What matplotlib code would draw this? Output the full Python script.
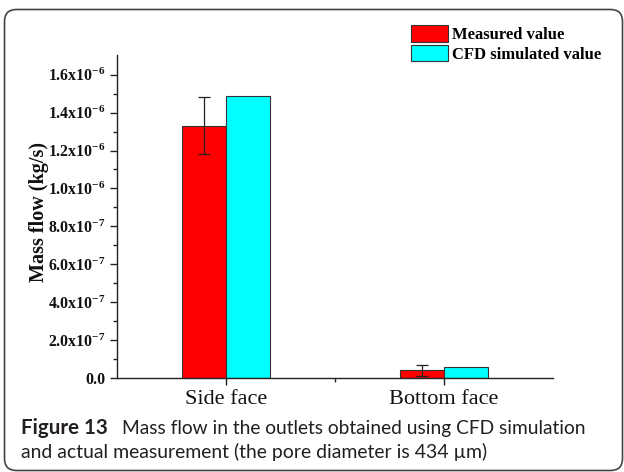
"""Figure 13: mass flow in the outlets, measured vs CFD simulated."""
import numpy as np
import matplotlib
matplotlib.use("Agg")
import matplotlib.pyplot as plt
from matplotlib.patches import FancyBboxPatch
from matplotlib.ticker import FixedLocator, FixedFormatter
from matplotlib.transforms import IdentityTransform

# ---------------------------------------------------------------------------
# data
# ---------------------------------------------------------------------------
categories = ["Side face", "Bottom face"]
measured = [1.33e-6, 0.04e-6]
measured_err = [0.15e-6, 0.028e-6]
simulated = [1.49e-6, 0.06e-6]

ytick_values = [0.0, 0.2e-6, 0.4e-6, 0.6e-6, 0.8e-6, 1.0e-6, 1.2e-6, 1.4e-6, 1.6e-6]
ytick_labels = ["0.0", r"2.0x10$^{-7}$", r"4.0x10$^{-7}$", r"6.0x10$^{-7}$",
                r"8.0x10$^{-7}$", r"1.0x10$^{-6}$", r"1.2x10$^{-6}$",
                r"1.4x10$^{-6}$", r"1.6x10$^{-6}$"]

plt.rcParams["mathtext.fontset"] = "custom"
plt.rcParams["mathtext.rm"] = "Liberation Serif:bold"
plt.rcParams["mathtext.it"] = "Liberation Serif:bold"
plt.rcParams["mathtext.bf"] = "Liberation Serif:bold"

serif = "Liberation Serif"
W, H = 624, 472
fig = plt.figure(figsize=(W / 100, H / 100), dpi=100)
# axes box in pixels: x 117..553, y 55..378 (from top)
ax = fig.add_axes([117 / W, 1 - 378 / H, 436 / W, 323 / H])

x = np.arange(1, len(categories) + 1)
w = 0.2
ax.bar(x - w / 2, measured, w, yerr=measured_err, color="#ff0000",
       edgecolor="#333333", linewidth=0.8, label="Measured value",
       error_kw=dict(ecolor="#222222", elinewidth=0.9, capsize=4.3, capthick=0.9))
ax.bar(x + w / 2, simulated, w, color="#00ffff", edgecolor="#333333",
       linewidth=0.8, label="CFD simulated value")

ax.set_xlim(0.5, 2.5)
ax.set_ylim(0, 1.704e-6)
for s in ("top", "right"):
    ax.spines[s].set_visible(False)
for s in ("left", "bottom"):
    ax.spines[s].set_linewidth(1.0)
    ax.spines[s].set_color("#222222")

ax.yaxis.set_major_locator(FixedLocator(ytick_values))
ax.yaxis.set_major_formatter(FixedFormatter(ytick_labels))
ax.yaxis.set_minor_locator(FixedLocator(np.arange(0.1e-6, 1.7e-6, 0.2e-6)))
ax.set_xticks(x)
ax.set_xticklabels(categories, family=serif, fontsize=16)
ax.xaxis.set_minor_locator(FixedLocator([1.5]))
ax.tick_params(axis="both", which="major", direction="out", length=5,
               width=1.0, color="#222222")
ax.tick_params(axis="both", which="minor", direction="out", length=3,
               width=1.0, color="#222222")
ax.tick_params(axis="y", labelsize=11.4, pad=3.5, labelcolor="#111111")
ax.tick_params(axis="x", pad=4, labelcolor="#111111")
for lab in ax.get_yticklabels():
    lab.set_family(serif)
    lab.set_fontweight("bold")

ax.set_ylabel("Mass flow (kg/s)", family=serif, fontweight="bold",
              fontsize=14.5, color="#111111")
ax.yaxis.set_label_coords(-0.157, 0.515)

ax.legend(loc="upper left", bbox_to_anchor=(411 / W, 1 - 25 / H),
          bbox_transform=fig.transFigure, frameon=False,
          prop=dict(family=serif, weight="bold", size=12),
          handlelength=2.2, handleheight=1.15, handletextpad=0.25,
          labelspacing=0.12, borderaxespad=0, borderpad=0)

# caption, each line fitted to the width it has in the reference
cap_color = "#231f20"
renderer = fig.canvas.get_renderer()


def fit(txt, right_px):
    bb = txt.get_window_extent(renderer)
    txt.set_fontsize(txt.get_fontsize() * (right_px - bb.x0) / bb.width)


cap_font = "Lato"
t1 = fig.text(21 / W, 1 - 434 / H, "Figure 13", family=cap_font,
              fontweight="bold", fontsize=14, color=cap_color)
fit(t1, 108)
t2 = fig.text(122 / W, 1 - 434 / H,
              "Mass flow in the outlets obtained using CFD simulation",
              family=cap_font, fontsize=14, color=cap_color)
fit(t2, 587)
t3 = fig.text(21 / W, 1 - 458 / H,
              "and actual measurement (the pore diameter is 434 \u00b5m)",
              family=cap_font, fontsize=14, color=cap_color)
fit(t3, 490)

# rounded border of the figure panel
box = FancyBboxPatch((4.5, 1.5), 618, 461, boxstyle="round,pad=0,rounding_size=12",
                     transform=IdentityTransform(), fill=False,
                     edgecolor="#444444", linewidth=1.2)
fig.patches.append(box)

fig.savefig("out.png", dpi=100)
